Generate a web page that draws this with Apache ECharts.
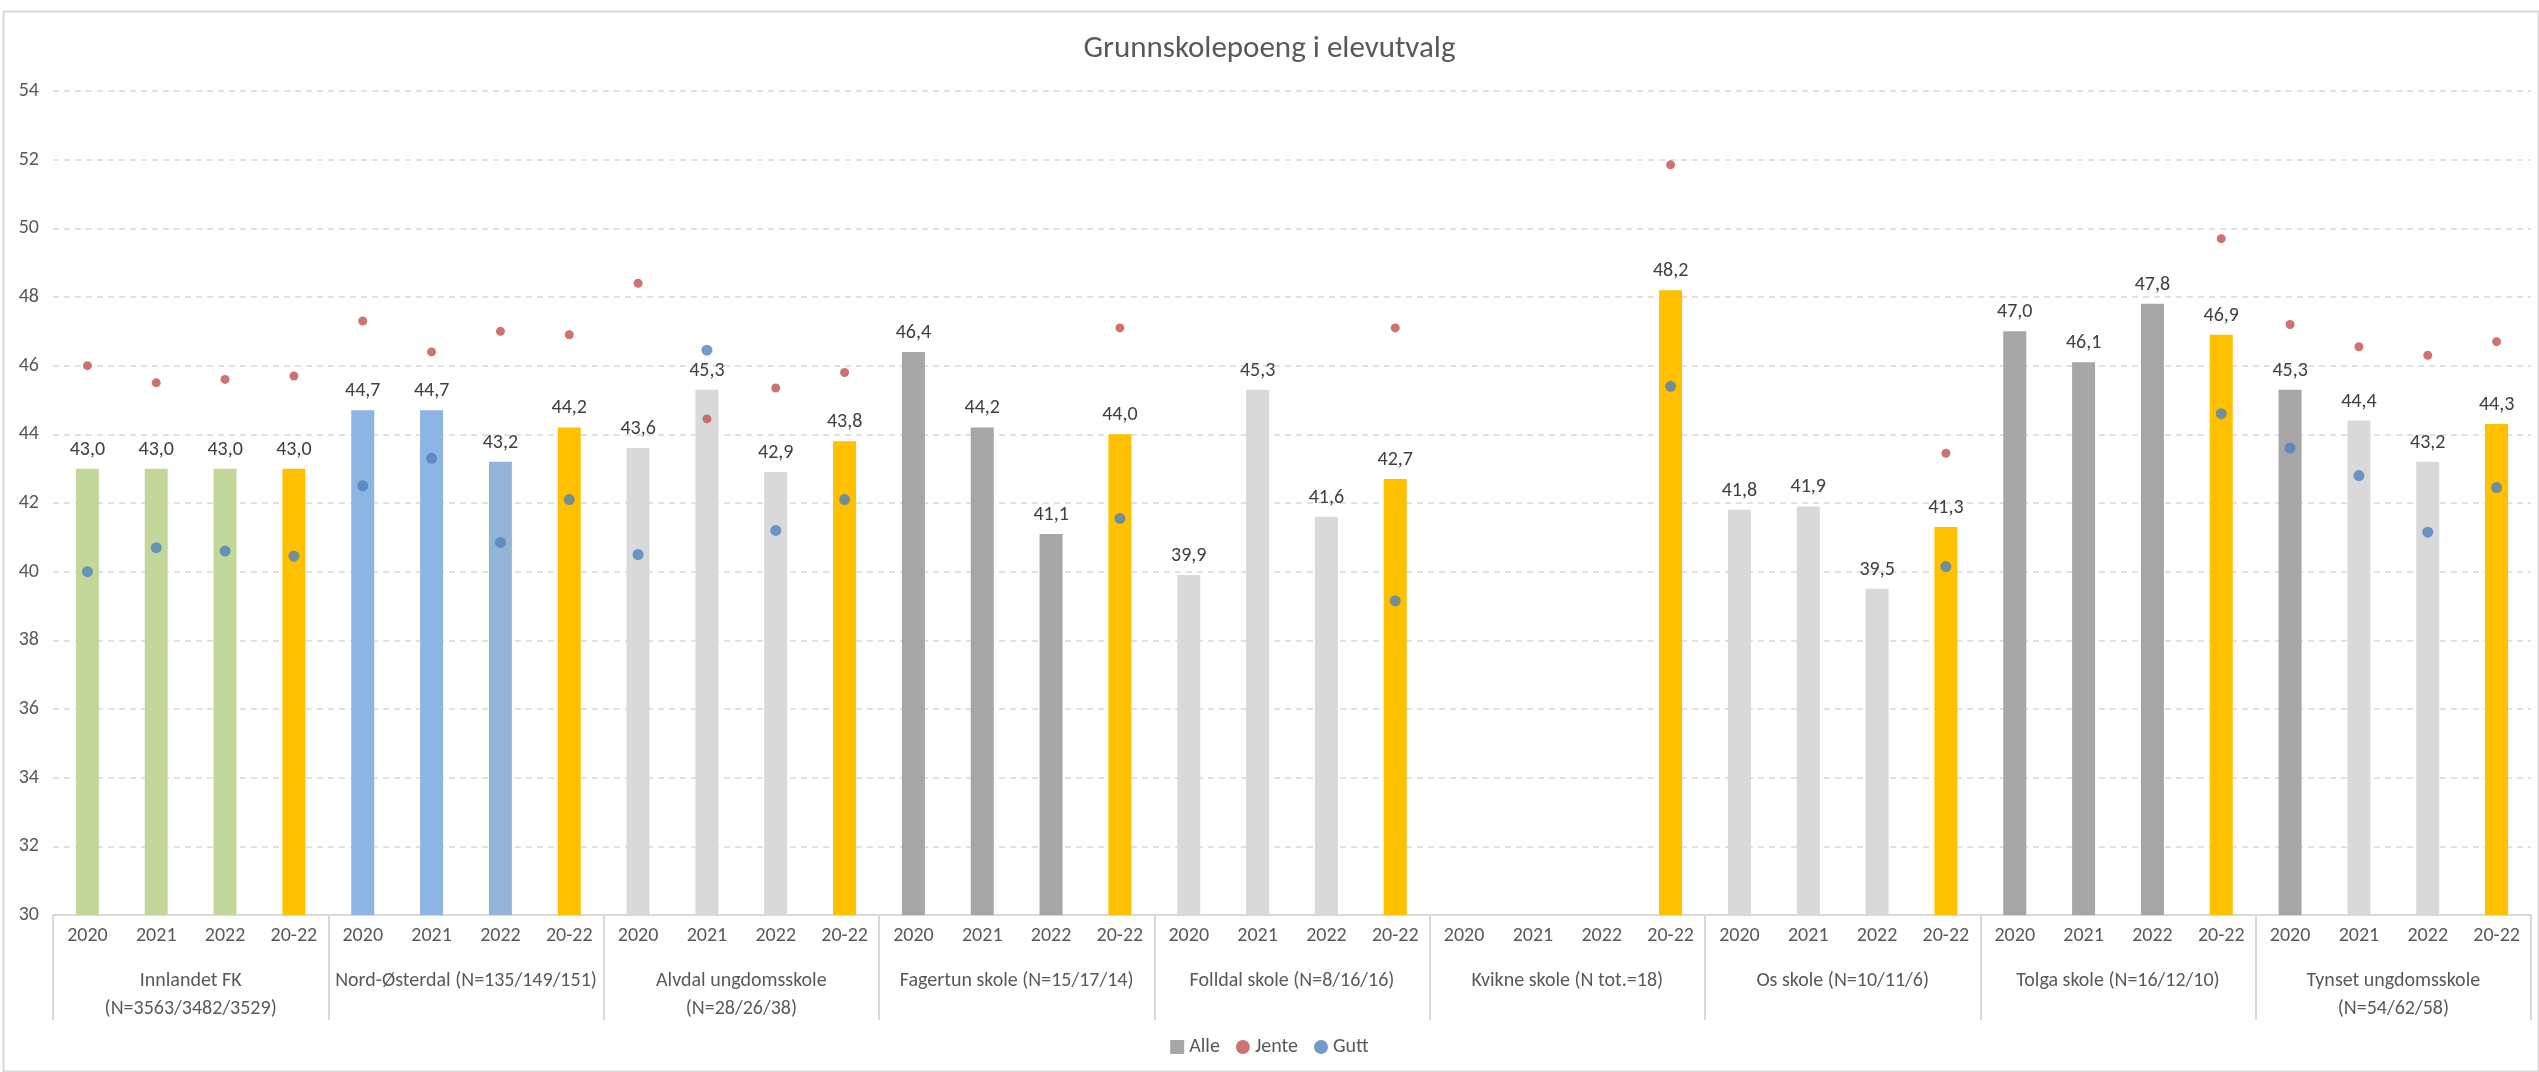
<!DOCTYPE html>
<html>
<head>
<meta charset="utf-8">
<script src="https://cdn.jsdelivr.net/npm/echarts@6/dist/echarts.min.js"></script>
<style>
html,body{margin:0;padding:0;background:#fff;}
#chart{width:2539px;height:1072px;}
</style>
</head>
<body>
<div id="chart"></div>
<script>
const titleText = 'Grunnskolepoeng i elevutvalg';
const groups = ['Innlandet FK\n(N=3563/3482/3529)', 'Nord-Østerdal (N=135/149/151)', 'Alvdal ungdomsskole\n(N=28/26/38)', 'Fagertun skole (N=15/17/14)', 'Folldal skole (N=8/16/16)', 'Kvikne skole (N tot.=18)', 'Os skole (N=10/11/6)', 'Tolga skole (N=16/12/10)', 'Tynset ungdomsskole\n(N=54/62/58)'];
const periods = ['2020', '2021', '2022', '20-22'];
const yTicks = [30, 54, 2];

const alle = [43.0,43.0,43.0,43.0, 44.7,44.7,43.2,44.2, 43.6,45.3,42.9,43.8, 46.4,44.2,41.1,44.0, 39.9,45.3,41.6,42.7, null,null,null,48.2, 41.8,41.9,39.5,41.3, 47.0,46.1,47.8,46.9, 45.3,44.4,43.2,44.3];
const jente = [46.0,45.5,45.6,45.7, 47.3,46.4,47.0,46.9, 48.4,44.45,45.35,45.8, null,null,null,47.1, null,null,null,47.1, null,null,null,51.85, null,null,null,43.45, null,null,null,49.7, 47.2,46.55,46.3,46.7];
const gutt = [40.0,40.7,40.6,40.45, 42.5,43.3,40.85,42.1, 40.5,46.45,41.2,42.1, null,null,null,41.55, null,null,null,39.15, null,null,null,45.4, null,null,null,40.15, null,null,null,44.6, 43.6,42.8,41.15,42.45];

// styles (kept separate from data)
const G='#C4D79B', Y='#FFC000', B1='#8DB4E2', B2='#95B3D7', L='#D9D9D9', D='#A6A6A6';
const barColors = [G,G,G,Y, B1,B1,B2,Y, L,L,L,Y, D,D,D,Y, L,L,L,Y, D,D,D,Y, L,L,L,Y, D,D,D,Y, D,L,L,Y];

const cats = [];
groups.forEach(() => periods.forEach(p => cats.push(p)));

const FONT = 'Carlito, Roboto, sans-serif';
const TXT = '#595959';

const chart = echarts.init(document.getElementById('chart'), null, {renderer: 'canvas'});
chart.setOption({
  animation: false,
  backgroundColor: '#fff',
  textStyle: {fontFamily: FONT},
  title: {
    text: titleText, left: 'center', top: 29,
    textStyle: {fontFamily: FONT, fontSize: 31, fontWeight: 'normal', color: TXT}
  },
  graphic: [{
    type: 'rect', left: 1, top: 9, z: -1,
    shape: {width: 2535, height: 1060},
    style: {fill: 'none', stroke: '#D9D9D9', lineWidth: 2}
  }],
  legend: {
    bottom: 10, left: 'center', itemGap: 16, itemWidth: 14, itemHeight: 14,
    textStyle: {fontFamily: FONT, fontSize: 20, color: TXT},
    data: [{name: 'Alle', icon: 'rect'}, {name: 'Jente', icon: 'circle'}, {name: 'Gutt', icon: 'circle'}]
  },
  grid: {left: 53, right: 8, top: 91, bottom: 157, containLabel: false},
  xAxis: [{
    type: 'category', data: cats, position: 'bottom',
    axisLine: {lineStyle: {color: '#D9D9D9', width: 2}},
    axisTick: {show: false},
    axisLabel: {interval: 0, margin: 11, fontSize: 20, color: TXT, fontFamily: FONT}
  }, {
    type: 'category', data: groups, position: 'bottom',
    axisLine: {show: false},
    axisTick: {show: true, interval: 0, length: 105, lineStyle: {color: '#D9D9D9', width: 2}},
    axisLabel: {interval: 0, margin: 52, fontSize: 20, lineHeight: 28, color: TXT, fontFamily: FONT}
  }],
  yAxis: {
    type: 'value', min: yTicks[0], max: yTicks[1], interval: yTicks[2],
    axisLine: {show: false}, axisTick: {show: false},
    axisLabel: {margin: 14, fontSize: 20, color: TXT, fontFamily: FONT},
    splitLine: {lineStyle: {color: '#D9D9D9', type: [6, 5], width: 1.5}}
  },
  series: [{
    name: 'Alle', type: 'bar', xAxisIndex: 0, barWidth: 23,
    itemStyle: {color: D},
    data: alle.map((v, i) => ({value: v, itemStyle: {color: barColors[i]}})),
    label: {
      show: true, position: 'top', distance: 9, fontSize: 20, color: '#404040', fontFamily: FONT,
      formatter: p => p.value == null ? '' : p.value.toFixed(1).replace('.', ',')
    },
    z: 2
  }, {
    name: 'Jente', type: 'scatter', xAxisIndex: 0, symbol: 'circle', symbolSize: 9,
    itemStyle: {color: '#C0504D'}, data: jente, z: 3
  }, {
    name: 'Gutt', type: 'scatter', xAxisIndex: 0, symbol: 'circle', symbolSize: 11,
    itemStyle: {color: '#4F81BD'}, data: gutt, z: 4
  }]
});
</script>
</body>
</html>
